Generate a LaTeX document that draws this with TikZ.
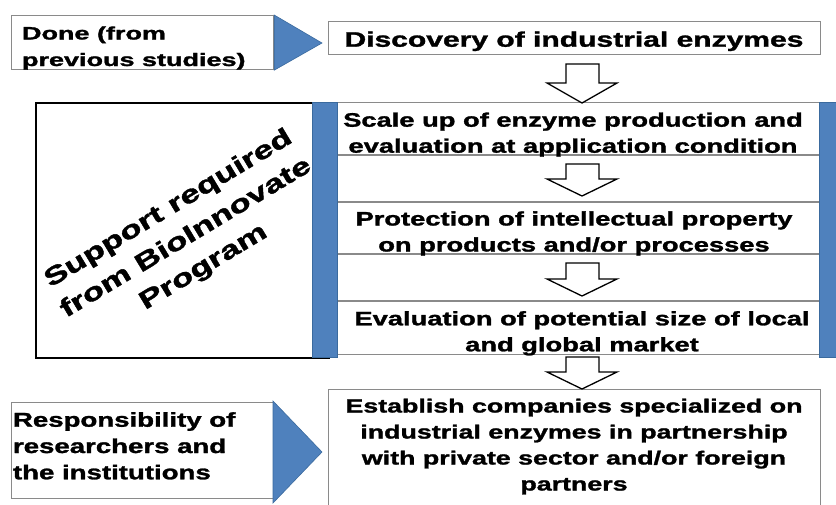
\documentclass[tikz,border=0pt]{standalone}
\usepackage{fontspec}
\setmainfont{Liberation Sans}[BoldFeatures={FakeBold=1.3}]
\usepackage{graphicx}
\definecolor{obl}{HTML}{4F81BD}
\definecolor{obd}{HTML}{3A6A9E}
\definecolor{gbr}{HTML}{8A8A8A}
% #1 xscale, #2 font size, #3 baselineskip, #4 column type, #5 lines
\newcommand\tblk[5]{\scalebox{#1}[1]{\fontsize{#2}{#3}\selectfont\bfseries\begin{tabular}[t]{@{}#4@{}}#5\end{tabular}}}
\newcommand\downarr[3]{\draw[barrow] (566,#1) -- (599,#1) -- (599,#2) -- (617,#2) -- (582,#3) -- (547,#2) -- (566,#2) -- cycle;}
\begin{document}
\begin{tikzpicture}[x=1pt,y=-1pt,
  gbox/.style={draw=gbr, line width=1.2pt, fill=white, inner sep=0pt, anchor=north west},
  blk/.style={draw=black, line width=1.6pt, fill=white, inner sep=0pt, anchor=north west},
  bluefill/.style={fill=obl, draw=obd, line width=0.6pt},
  txt/.style={inner sep=0pt, outer sep=0pt},
  barrow/.style={draw=black, line width=1.3pt, fill=white, line join=miter},
  rowline/.style={draw=gbr, line width=1.2pt}]
\useasboundingbox (0,0) rectangle (836,504);
\clip (0,0) rectangle (836,504);
\fill[white] (0,0) rectangle (836,504);

% top left box with pointer
\node[gbox, minimum width=262pt, minimum height=54pt] (done) at (11,15) {};
\coordinate (donetip) at (322,43);
\filldraw[bluefill] (done.north east) -- (donetip) -- (done.south east) -- cycle;

% discovery box
\node[gbox, minimum width=492pt, minimum height=33pt] (disc) at (328,21) {};

% support box
\node[blk, minimum width=293pt, minimum height=255pt] (supp) at (35,102) {};

% column
\node[gbox, minimum width=482pt, minimum height=252pt] (col) at (337,102) {};
\draw[rowline] (337,155) -- (819,155);
\draw[rowline] (337,202) -- (819,202);
\draw[rowline] (337,254) -- (819,254);
\draw[rowline] (337,301) -- (819,301);

% blue bars
\node[bluefill, inner sep=0pt, anchor=north west, minimum width=25pt, minimum height=255pt] (lbar) at (312,102) {};
\node[bluefill, inner sep=0pt, anchor=north west, minimum width=25pt, minimum height=255pt] (rbar) at (819,102) {};

% establish box
\node[gbox, minimum width=492pt, minimum height=125pt] (est) at (328,389) {};

% bottom left box with pointer
\node[gbox, minimum width=262pt, minimum height=96pt] (resp) at (11,402) {};
\coordinate (resptip) at (322,452);
\coordinate (resptop) at (273,401);
\coordinate (respbot) at (273,503);
\filldraw[bluefill] (resptop) -- (resptip) -- (respbot) -- cycle;

% block arrows
\downarr{64}{83}{103}
\downarr{164}{179}{196}
\downarr{263}{279}{296}
\downarr{357}{372}{389}

% texts
\node[txt, anchor=base west] (tdone) at (22,39.5) {\tblk{1.50}{18}{26.5}{l}{Done (from\\previous studies)}};
\node[txt, anchor=base] (tdisc) at (574,46.7) {\tblk{1.43}{21}{25}{c}{Discovery of industrial enzymes}};
\node[txt, anchor=base] (tscale) at (573,126.7) {\tblk{1.40}{19.5}{26}{c}{Scale up of enzyme production and\\evaluation at application condition}};
\node[txt, anchor=base] (tprot) at (574,225.5) {\tblk{1.40}{19.5}{26}{c}{Protection of intellectual property\\on products and/or processes}};
\node[txt, anchor=base] (teval) at (582,325.3) {\tblk{1.40}{19.5}{26}{c}{Evaluation of potential size of local\\and global market}};
\node[txt, anchor=base] (test) at (574,412.5) {\tblk{1.41}{19}{26}{c}{Establish companies specialized on\\industrial enzymes in partnership\\with private sector and/or foreign\\partners}};
\node[txt, anchor=base west] (tresp) at (13,426.7) {\tblk{1.38}{20}{26.3}{l}{Responsibility of\\researchers and\\the institutions}};
\node[txt, rotate=31] (tsupp) at (186,238) {\scalebox{1.4}[1]{\fontsize{25}{34}\selectfont\bfseries\begin{tabular}{@{}c@{}}Support required\\from BioInnovate\\Program\end{tabular}}};
\end{tikzpicture}
\end{document}
